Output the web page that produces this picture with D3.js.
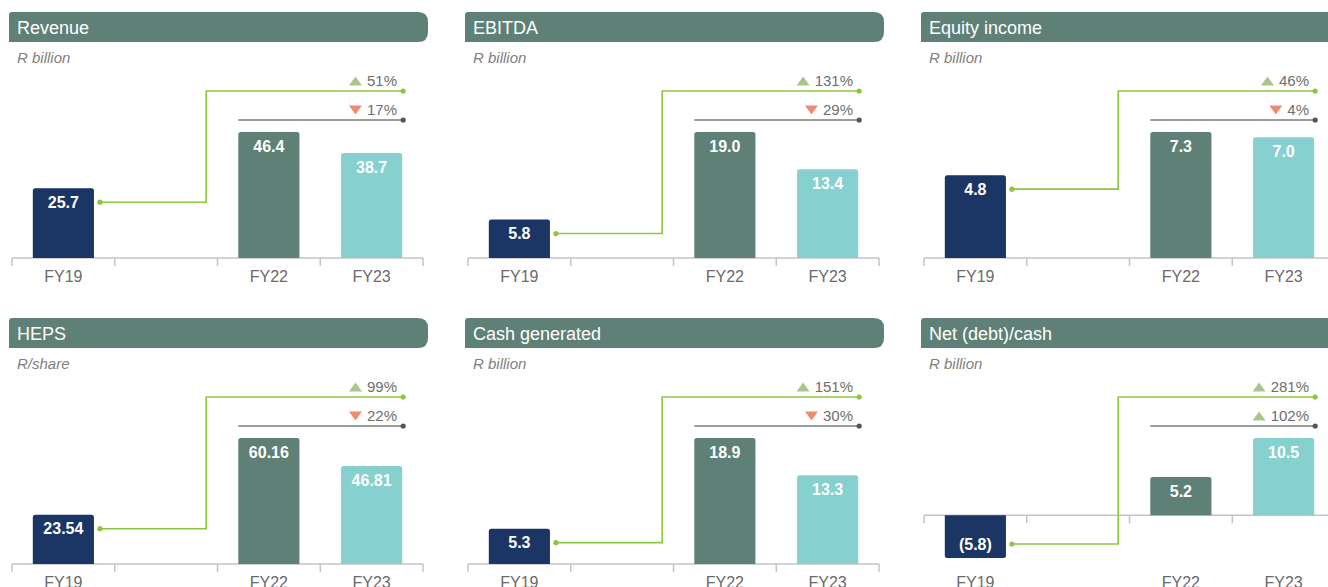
<!DOCTYPE html>
<html>
<head>
<meta charset="utf-8">
<script src="https://cdn.jsdelivr.net/npm/d3@7"></script>
<style>
  html, body { margin: 0; padding: 0; background: #ffffff; }
  svg { display: block; font-family: "Liberation Sans", Arial, sans-serif; }
</style>
</head>
<body>
<svg id="chart" width="1328" height="587"></svg>
<script>
// Six small bar panels: FY19 vs FY22 vs FY23 with change callouts
const titles = ["Revenue", "EBITDA", "Equity income", "HEPS", "Cash generated", "Net (debt)/cash"];
const units = ["R billion", "R billion", "R billion", "R/share", "R billion", "R billion"];
const categories = ["FY19", "", "FY22", "FY23"];
const fy19 = [25.7, 5.8, 4.8, 23.54, 5.3, -5.8];
const fy22 = [46.4, 19.0, 7.3, 60.16, 18.9, 5.2];
const fy23 = [38.7, 13.4, 7.0, 46.81, 13.3, 10.5];
const decimals = [1, 1, 1, 2, 1, 1];
const changeVsFY19 = [51, 131, 46, 99, 151, 281];   // FY23 vs FY19, %
const changeVsFY22 = [-17, -29, -4, -22, -30, 102]; // FY23 vs FY22, %

const colors = {
  header: "#5e8076",
  bars: ["#1b3564", null, "#5e8076", "#86d0cf"],
  longLine: "#8cc63f",
  shortLine: "#7b7b7b",
  shortDot: "#555555",
  up: "#a8c58a",
  down: "#f08b6d",
  axis: "#c4c4c4",
  text: "#6e6e6e",
  catText: "#6a6a6a",
  unitText: "#808080"
};

const svg = d3.select("#chart");
const panelX = [0, 456, 912];
const panelY = [0, 306];

const fmt = (v, dec) => {
  const s = Math.abs(v).toFixed(dec);
  return v < 0 ? "(" + s + ")" : s;
};

titles.forEach((title, i) => {
  const g = svg.append("g")
    .attr("transform", `translate(${panelX[i % 3]},${panelY[Math.floor(i / 3)]})`);

  // header band with rounded right end
  const hx0 = 9, hx1 = 428, hy0 = 12, hy1 = 42, r = 10, rl = 3;
  g.append("path")
    .attr("d", `M${hx0},${hy1} V${hy0 + rl} Q${hx0},${hy0} ${hx0 + rl},${hy0} H${hx1 - r} Q${hx1},${hy0} ${hx1},${hy0 + r} V${hy1 - r} Q${hx1},${hy1} ${hx1 - r},${hy1} Z`)
    .attr("fill", colors.header);
  g.append("text")
    .attr("x", 17).attr("y", 33.5)
    .attr("fill", "#ffffff")
    .attr("font-size", 18)
    .text(title);
  g.append("text")
    .attr("x", 17).attr("y", 63)
    .attr("fill", colors.unitText)
    .attr("font-size", 15)
    .attr("font-style", "italic")
    .text(units[i]);

  const values = [fy19[i], null, fy22[i], fy23[i]];
  const vals = values.filter(v => v !== null);

  const x = d3.scaleBand().domain(d3.range(categories.length)).range([12, 423]).padding(0);
  const barW = x.bandwidth() * 0.595;
  const y = d3.scaleLinear()
    .domain([Math.min(0, d3.min(vals)), d3.max(vals)])
    .range([d3.min(vals) < 0 ? 252 : 258, 132]);
  const y0 = y(0);

  // axis line with band-boundary ticks
  g.append("line")
    .attr("x1", 12).attr("x2", 423)
    .attr("y1", y0).attr("y2", y0)
    .attr("stroke", colors.axis).attr("stroke-width", 1.5);
  d3.range(categories.length + 1).forEach(k => {
    const tx = k < categories.length ? x(k) : x(categories.length - 1) + x.bandwidth();
    g.append("line")
      .attr("x1", tx).attr("x2", tx)
      .attr("y1", y0).attr("y2", y0 + 8)
      .attr("stroke", colors.axis).attr("stroke-width", 1.5);
  });

  // category labels sit below the plot area
  g.selectAll("text.cat")
    .data(categories)
    .join("text")
    .attr("class", "cat")
    .attr("x", (d, k) => x(k) + x.bandwidth() / 2)
    .attr("y", 282)
    .attr("text-anchor", "middle")
    .attr("fill", colors.catText)
    .attr("font-size", 16)
    .text(d => d);

  const barData = values.map((v, k) => ({ v, k })).filter(d => d.v !== null);
  const barX = k => x(k) + (x.bandwidth() - barW) / 2;

  g.selectAll("path.bar")
    .data(barData)
    .join("path")
    .attr("class", "bar")
    .attr("fill", d => colors.bars[d.k])
    .attr("d", d => {
      const x0 = barX(d.k), x1 = x0 + barW, rr = 2.5;
      if (d.v >= 0) {
        const top = y(d.v);
        return `M${x0},${y0} V${top + rr} Q${x0},${top} ${x0 + rr},${top} H${x1 - rr} Q${x1},${top} ${x1},${top + rr} V${y0} Z`;
      }
      const bot = y(d.v);
      return `M${x0},${y0} V${bot - rr} Q${x0},${bot} ${x0 + rr},${bot} H${x1 - rr} Q${x1},${bot} ${x1},${bot - rr} V${y0} Z`;
    });

  const labelY = d => d.v >= 0 ? y(d.v) + 14 : y(d.v) - 14;

  g.selectAll("text.val")
    .data(barData)
    .join("text")
    .attr("class", "val")
    .attr("x", d => barX(d.k) + barW / 2)
    .attr("y", d => labelY(d))
    .attr("dy", "0.36em")
    .attr("text-anchor", "middle")
    .attr("fill", "#ffffff")
    .attr("font-size", 16)
    .attr("font-weight", "bold")
    .text(d => fmt(d.v, decimals[i]));

  // connector lines
  const endX = barX(3) + barW + 1;
  const longY = 91, shortY = 120;
  const startX = barX(0) + barW + 6;
  const startY = labelY(barData[0]);
  const stepX = x(2) - x.bandwidth() * 0.11;

  g.append("path")
    .attr("d", `M${startX},${startY} H${stepX} V${longY} H${endX}`)
    .attr("fill", "none")
    .attr("stroke", colors.longLine)
    .attr("stroke-width", 1.6);
  g.append("circle").attr("cx", startX).attr("cy", startY).attr("r", 2.6).attr("fill", colors.longLine);
  g.append("circle").attr("cx", endX).attr("cy", longY).attr("r", 2.6).attr("fill", colors.longLine);

  g.append("line")
    .attr("x1", barX(2)).attr("x2", endX)
    .attr("y1", shortY).attr("y2", shortY)
    .attr("stroke", colors.shortLine)
    .attr("stroke-width", 1.6);
  g.append("circle").attr("cx", endX).attr("cy", shortY).attr("r", 2.6).attr("fill", colors.shortDot);

  // change callouts: triangle + percentage, right-aligned
  const callouts = [
    { pct: changeVsFY19[i], base: 86 },
    { pct: changeVsFY22[i], base: 115 }
  ];
  callouts.forEach(c => {
    const t = g.append("text")
      .attr("x", 397).attr("y", c.base)
      .attr("text-anchor", "end")
      .attr("fill", colors.text)
      .attr("font-size", 15)
      .text(Math.abs(c.pct) + "%");
    const w = t.node().getComputedTextLength();
    const tr = 397 - w - 5;   // triangle right edge
    const tw = 13, th = 9;
    const ty = c.base - 0.5;
    const pathD = c.pct >= 0
      ? `M${tr - tw},${ty} L${tr},${ty} L${tr - tw / 2},${ty - th} Z`
      : `M${tr - tw},${ty - th} L${tr},${ty - th} L${tr - tw / 2},${ty} Z`;
    g.append("path")
      .attr("d", pathD)
      .attr("fill", c.pct >= 0 ? colors.up : colors.down);
  });
});
</script>
</body>
</html>
